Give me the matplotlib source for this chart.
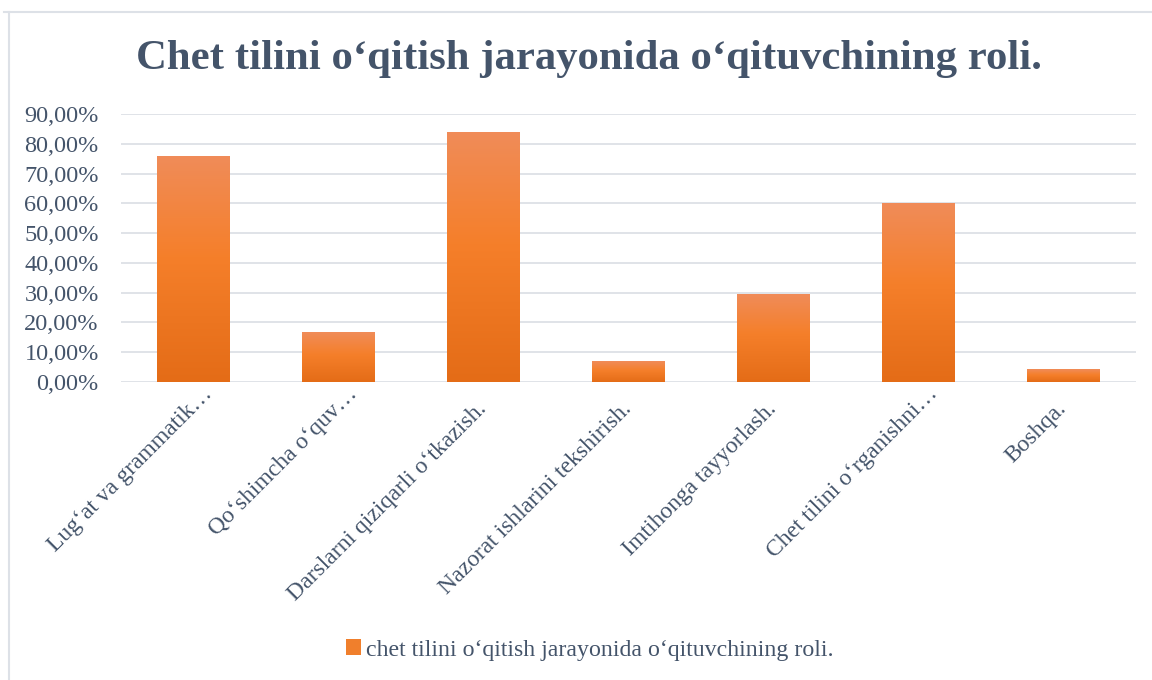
import matplotlib
matplotlib.use("Agg")
import matplotlib.pyplot as plt
import numpy as np
from matplotlib.colors import LinearSegmentedColormap
from matplotlib.lines import Line2D
from matplotlib.ticker import FuncFormatter, MultipleLocator
from matplotlib.patches import Patch
from matplotlib.transforms import ScaledTranslation

title = "Chet tilini o‘qitish jarayonida o‘qituvchining roli."
series_name = "chet tilini o‘qitish jarayonida o‘qituvchining roli."
categories = [
    "Lug‘at va grammatik…",
    "Qo‘shimcha o‘quv…",
    "Darslarni qiziqarli o‘tkazish.",
    "Nazorat ishlarini tekshirish.",
    "Imtihonga tayyorlash.",
    "Chet tilini o‘rganishni…",
    "Boshqa.",
]
values = [0.76, 0.167, 0.84, 0.07, 0.295, 0.60, 0.043]

text_color = "#44546A"
grid_color = "#E0E3E8"

plt.rcParams["font.family"] = ["Liberation Serif", "DejaVu Serif"]

fig = plt.figure(figsize=(11.52, 6.8), dpi=100)
ax = fig.add_axes([0.105, 0.4382, 0.881, 0.3942])

x = np.arange(len(categories))
bars = ax.bar(x, values, width=0.5, color="#F07F2C", zorder=2, linewidth=0)

cmap = LinearSegmentedColormap.from_list(
    "og", [(0.0, "#E46C17"), (0.55, "#F57F2A"), (1.0, "#F08C59")])
grad = np.linspace(0, 1, 256).reshape(-1, 1)
for b in bars:
    bx, by = b.get_x(), b.get_y()
    bw, bh = b.get_width(), b.get_height()
    im = ax.imshow(grad, cmap=cmap, origin="lower", aspect="auto",
                   extent=(bx, bx + bw, by, by + bh), zorder=3,
                   interpolation="bicubic")
    im.set_clip_path(b)

ax.set_xlim(-0.5, len(categories) - 0.5)
ax.set_ylim(0, 0.9)
ax.yaxis.set_major_locator(MultipleLocator(0.1))
ax.yaxis.set_major_formatter(FuncFormatter(lambda v, p: f"{v*100:.2f}%".replace(".", ",")))
ax.grid(axis="y", color=grid_color, linewidth=1.4, zorder=0)
ax.set_axisbelow(True)
for s in ax.spines.values():
    s.set_visible(False)
ax.tick_params(axis="both", length=0, colors=text_color, labelsize=17.5)
ax.tick_params(axis="y", pad=16)
ax.tick_params(axis="x", pad=17)
ax.set_xticks(x)
ax.set_xticklabels(categories, rotation=45, ha="right", va="center",
                   rotation_mode="anchor", color=text_color, fontsize=17)
# truncated labels sit a bit further along their direction
shift = ScaledTranslation(0.16, 0.15, fig.dpi_scale_trans)
for lbl in ax.get_xticklabels():
    if lbl.get_text().endswith("…"):
        lbl.set_transform(lbl.get_transform() + shift)

fig.text(0.511, 0.913, title, ha="center", va="center", fontsize=30.8,
         fontweight="bold", color=text_color)

leg = fig.legend(handles=[Patch(facecolor="#F07F2C", edgecolor="none")],
                 labels=[series_name], loc="center", bbox_to_anchor=(0.512, 0.044),
                 frameon=False, fontsize=17.2, handlelength=0.65, handleheight=0.65,
                 handletextpad=0.2, labelcolor=text_color)

fig.add_artist(Line2D([4 / 1152, 1.0], [1 - 12 / 680, 1 - 12 / 680],
                      transform=fig.transFigure, color="#DDE1E7", linewidth=1.5))
fig.add_artist(Line2D([9 / 1152, 9 / 1152], [0.0, 1 - 12 / 680],
                      transform=fig.transFigure, color="#DDE1E7", linewidth=1.5))

fig.savefig("out.png", dpi=100)
